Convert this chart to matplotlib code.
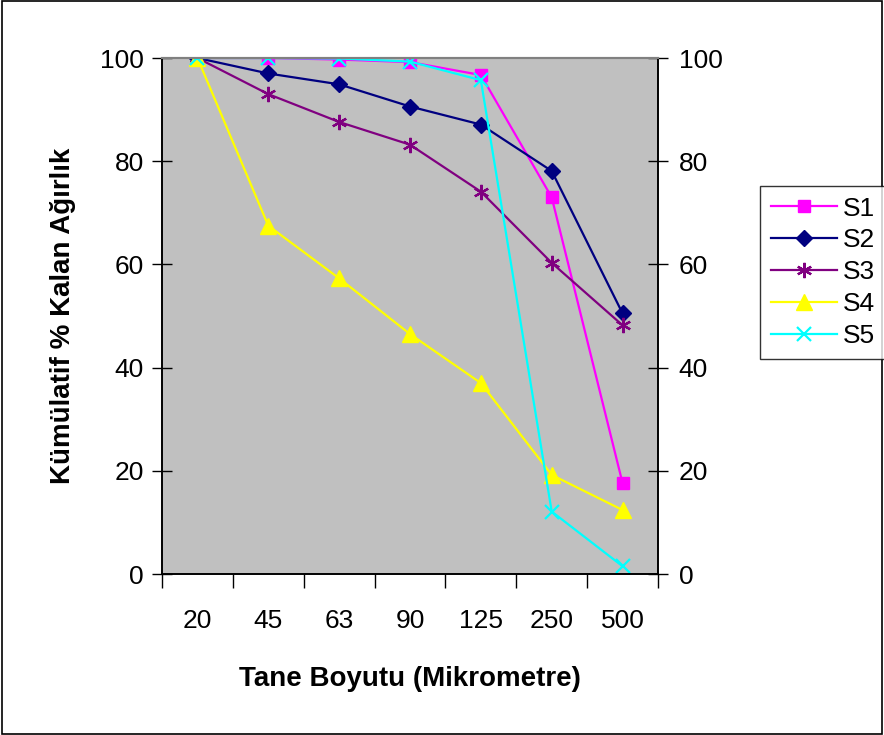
import matplotlib
matplotlib.use("Agg")
import matplotlib.pyplot as plt
from matplotlib.patches import Rectangle

# sieve sizes and cumulative % retained
sizes = ['20', '45', '63', '90', '125', '250', '500']
s1 = [100, 100, 99.7, 99.2, 96.7, 73.0, 17.6]
s2 = [100, 97.0, 94.9, 90.6, 87.1, 78.1, 50.5]
s3 = [100, 93.0, 87.6, 83.2, 74.1, 60.3, 48.2]
s4 = [100, 67.5, 57.3, 46.5, 37.0, 19.2, 12.4]
s5 = [100, 100, 99.9, 99.3, 95.7, 12.1, 1.5]

plt.rcParams['font.family'] = ['Liberation Sans', 'DejaVu Sans']

fig = plt.figure(figsize=(8.84, 7.35), dpi=100)
ax = fig.add_axes([162 / 884, 1 - 574 / 735, 496 / 884, 516 / 735])
ax.set_facecolor('#C0C0C0')

x = [i + 0.5 for i in range(len(sizes))]
ax.plot(x, s1, color='#FF00FF', marker='s', ms=9, lw=1.6, label='S1')
ax.plot(x, s2, color='#000080', marker='D', ms=8, lw=1.6, label='S2')
ax.plot(x, s3, color='#800080', marker=(6, 2, 0), ms=11, mew=1.6, lw=1.6, label='S3')
ax.plot(x, s4, color='#FFFF00', marker='^', ms=11, lw=1.6, label='S4')
ax.plot(x, s5, color='#00FFFF', marker='x', ms=10, mew=1.6, lw=1.6, label='S5')

ax.set_xlim(0, len(sizes))
ax.set_ylim(0, 100)
ax.set_xticks(range(len(sizes) + 1))
ax.set_xticklabels([])
ax.set_xticks(x, minor=True)
ax.set_xticklabels(sizes, minor=True)
ax.tick_params(axis='x', which='major', direction='out', length=10, width=1)
ax.tick_params(axis='x', which='minor', length=0, pad=25, labelsize=19)
ax.set_yticks(range(0, 101, 20))
ax.tick_params(axis='y', direction='inout', length=14, width=1, labelsize=19, pad=6)

ax2 = ax.twinx()
ax2.set_ylim(0, 100)
ax2.set_yticks(range(0, 101, 20))
ax2.tick_params(axis='y', direction='inout', length=14, width=1, labelsize=19, pad=8)

for a in (ax, ax2):
    a.spines['top'].set_color('#808080')
    a.spines['top'].set_linewidth(1.5)
    a.spines['left'].set_linewidth(1.2)
    a.spines['right'].set_linewidth(1.2)
    a.spines['bottom'].set_linewidth(1.2)

ax.set_ylabel('Kümülatif % Kalan Ağırlık', fontsize=20, fontweight='bold', labelpad=17)
ax.set_xlabel('Tane Boyutu (Mikrometre)', fontsize=20, fontweight='bold', labelpad=24)

leg = fig.legend(*ax.get_legend_handles_labels(), loc='upper left',
                 bbox_to_anchor=(760 / 884, 1 - 186 / 735), fontsize=19,
                 frameon=True, fancybox=False, edgecolor='black',
                 handlelength=2.5, handletextpad=0.25, labelspacing=0.3,
                 borderpad=0.4, borderaxespad=0)
leg.get_frame().set_linewidth(1)

fig.patches.append(Rectangle((0.002, 0.002), 0.996, 0.996, transform=fig.transFigure,
                             fill=False, edgecolor='black', lw=1.2))

fig.savefig('out.png', dpi=100)
